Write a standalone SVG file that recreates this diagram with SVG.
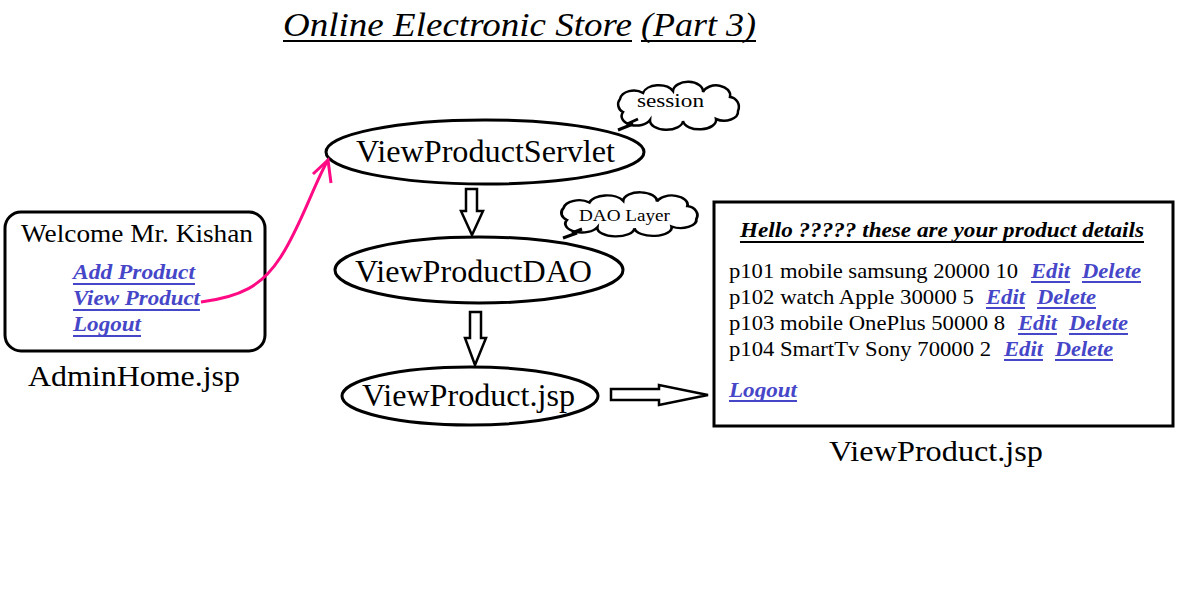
<svg xmlns="http://www.w3.org/2000/svg" width="1193" height="615" viewBox="0 0 1193 615">
<style>
text{font-family:'Liberation Serif','DejaVu Serif','Noto Serif',serif}
.t{fill:#000}
.it{font-style:italic}
.lk{font-weight:bold;font-style:italic;fill:#4646c8}
.ul{stroke:#4646c8;stroke-width:2}
.ulb{stroke:#000;stroke-width:2}
.shape{fill:#fff;stroke:#000;stroke-width:3}
.blk{fill:#fff;stroke:#000;stroke-width:2.5;stroke-linejoin:miter}
.cl{fill:#fff;stroke:#000;stroke-width:2.5}
</style>
<defs>
<path id="cloud" d="M15,25 A10 9 0 0 1 12,12 A14 10 0 0 1 35,6 A16 10 0 0 1 65,4 A14 9 0 0 1 95,5 A14 10 0 0 1 122,10 A10 10 0 0 1 130,24 A14 9 0 0 1 108,32 A16 9 0 0 1 75,34 A16 9 0 0 1 42,33 A14 9 0 0 1 15,25 Z"/>
</defs>
<rect width="1193" height="615" fill="#fff"/>

<g id="title">
<text class="t it" x="283" y="36" font-size="34" textLength="349" lengthAdjust="spacingAndGlyphs">Online Electronic Store</text>
<line class="ulb" x1="283" y1="41" x2="632" y2="41"/>
<text class="t it" x="641" y="36" font-size="34" textLength="115" lengthAdjust="spacingAndGlyphs">(Part 3)</text>
<line class="ulb" x1="641" y1="41" x2="756" y2="41"/>
</g>

<g id="adminhome">
<rect class="shape" x="5" y="212" width="260" height="139" rx="16"/>
<text class="t" x="21" y="242" font-size="26" textLength="232" lengthAdjust="spacingAndGlyphs">Welcome Mr. Kishan</text>
<text class="lk" x="73" y="279" font-size="20" textLength="122" lengthAdjust="spacingAndGlyphs">Add Product</text>
<line class="ul" x1="73" y1="284" x2="195" y2="284"/>
<text class="lk" x="73" y="305" font-size="20" textLength="127" lengthAdjust="spacingAndGlyphs">View Product</text>
<line class="ul" x1="73" y1="310" x2="200" y2="310"/>
<text class="lk" x="73" y="331" font-size="20" textLength="68" lengthAdjust="spacingAndGlyphs">Logout</text>
<line class="ul" x1="73" y1="336" x2="141" y2="336"/>
<text class="t" x="28" y="386" font-size="30" textLength="212" lengthAdjust="spacingAndGlyphs">AdminHome.jsp</text>
</g>

<g id="servlet">
<ellipse class="shape" cx="485" cy="152" rx="159" ry="32"/>
<text class="t" x="356" y="162" font-size="32" textLength="259" lengthAdjust="spacingAndGlyphs">ViewProductServlet</text>
</g>

<g id="session">
<use href="#cloud" class="cl" transform="translate(608,87)"/>
<polyline points="638,119 627,124 633,124 618,130" fill="none" stroke="#000" stroke-width="3"/>
<text class="t" x="637" y="107" font-size="18" textLength="67" lengthAdjust="spacingAndGlyphs">session</text>
</g>

<g id="dao">
<ellipse class="shape" cx="479" cy="270" rx="144" ry="33"/>
<text class="t" x="355" y="282" font-size="31" textLength="237" lengthAdjust="spacingAndGlyphs">ViewProductDAO</text>
</g>

<g id="daolayer">
<use href="#cloud" class="cl" vector-effect="non-scaling-stroke" transform="translate(550,197) scale(1.126,0.92)"/>
<polyline points="582,229 572,233 577,233 563,238" fill="none" stroke="#000" stroke-width="3"/>
<text class="t" x="579" y="221" font-size="16" textLength="91" lengthAdjust="spacingAndGlyphs">DAO Layer</text>
</g>

<g id="viewjsp">
<ellipse class="shape" cx="470" cy="396" rx="128" ry="29"/>
<text class="t" x="362" y="406" font-size="31" textLength="213" lengthAdjust="spacingAndGlyphs">ViewProduct.jsp</text>
</g>

<g id="page">
<rect class="shape" x="714" y="202" width="459" height="224"/>
<text class="t" x="740" y="237" font-size="21" font-weight="bold" font-style="italic" textLength="404" lengthAdjust="spacingAndGlyphs">Hello ????? these are your product details</text>
<line class="ulb" x1="740" y1="242" x2="1144" y2="242"/>

<text class="t" x="729" y="278" font-size="21" textLength="289" lengthAdjust="spacingAndGlyphs">p101 mobile samsung 20000 10</text>
<text class="lk" x="1031" y="278" font-size="21" textLength="39" lengthAdjust="spacingAndGlyphs">Edit</text>
<line class="ul" x1="1031" y1="282" x2="1070" y2="282"/>
<text class="lk" x="1082" y="278" font-size="21" textLength="59" lengthAdjust="spacingAndGlyphs">Delete</text>
<line class="ul" x1="1082" y1="282" x2="1141" y2="282"/>

<text class="t" x="729" y="304" font-size="21" textLength="245" lengthAdjust="spacingAndGlyphs">p102 watch Apple 30000 5</text>
<text class="lk" x="986" y="304" font-size="21" textLength="39" lengthAdjust="spacingAndGlyphs">Edit</text>
<line class="ul" x1="986" y1="308" x2="1025" y2="308"/>
<text class="lk" x="1037" y="304" font-size="21" textLength="59" lengthAdjust="spacingAndGlyphs">Delete</text>
<line class="ul" x1="1037" y1="308" x2="1096" y2="308"/>

<text class="t" x="729" y="330" font-size="21" textLength="276" lengthAdjust="spacingAndGlyphs">p103 mobile OnePlus 50000 8</text>
<text class="lk" x="1018" y="330" font-size="21" textLength="39" lengthAdjust="spacingAndGlyphs">Edit</text>
<line class="ul" x1="1018" y1="334" x2="1057" y2="334"/>
<text class="lk" x="1069" y="330" font-size="21" textLength="59" lengthAdjust="spacingAndGlyphs">Delete</text>
<line class="ul" x1="1069" y1="334" x2="1128" y2="334"/>

<text class="t" x="729" y="356" font-size="21" textLength="262" lengthAdjust="spacingAndGlyphs">p104 SmartTv Sony 70000 2</text>
<text class="lk" x="1004" y="356" font-size="21" textLength="39" lengthAdjust="spacingAndGlyphs">Edit</text>
<line class="ul" x1="1004" y1="360" x2="1043" y2="360"/>
<text class="lk" x="1055" y="356" font-size="21" textLength="58" lengthAdjust="spacingAndGlyphs">Delete</text>
<line class="ul" x1="1055" y1="360" x2="1113" y2="360"/>

<text class="lk" x="729" y="397" font-size="21" textLength="68" lengthAdjust="spacingAndGlyphs">Logout</text>
<line class="ul" x1="729" y1="401" x2="797" y2="401"/>
<text class="t" x="829" y="461" font-size="30" textLength="214" lengthAdjust="spacingAndGlyphs">ViewProduct.jsp</text>
</g>

<g id="connectors">
<path d="M201,302 C240,297 262,286 280,258 C300,228 314,184 328,160" fill="none" stroke="#ff0a84" stroke-width="3"/>
<polyline points="313,174 328,160 331,183" fill="none" stroke="#ff0a84" stroke-width="3"/>
<polygon class="blk" points="466,189 477,189 477,211 483,211 472,235 461,211 466,211"/>
<polygon class="blk" points="470,312 481,312 481,338 486,338 475,365 465,338 470,338"/>
<polygon class="blk" points="611,389 659,389 659,385 708,395 659,405 659,400 611,400"/>
</g>
</svg>
